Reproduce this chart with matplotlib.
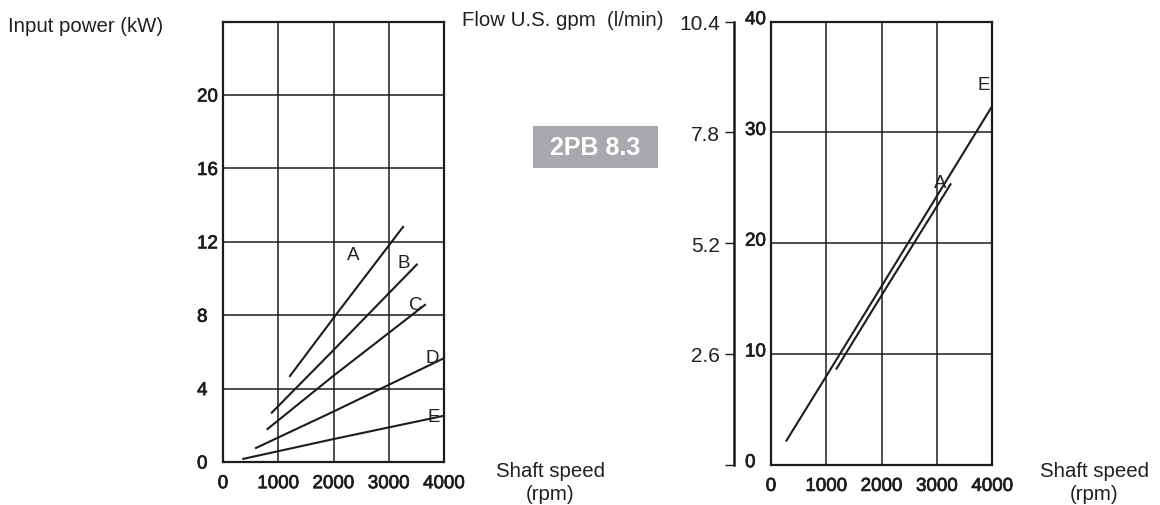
import matplotlib
matplotlib.use("Agg")
import matplotlib.pyplot as plt
import matplotlib.patheffects as pe
import matplotlib.transforms as mtransforms
from matplotlib.patches import Rectangle

plt.rcParams['font.family'] = ['Liberation Sans', 'DejaVu Sans']

# input power curves (rpm, kW)
pw_A_rpm = [1200, 2000, 3270]
pw_A_kw = [4.64, 7.85, 12.86]
pw_B_rpm = [870, 2000, 3520]
pw_B_kw = [2.65, 6.1, 10.8]
pw_C_rpm = [790, 2000, 3670]
pw_C_kw = [1.76, 4.7, 8.6]
pw_D_rpm = [580, 2000, 4000]
pw_D_kw = [0.74, 2.75, 5.66]
pw_E_rpm = [350, 2000, 4000]
pw_E_kw = [0.16, 1.25, 2.52]

# flow curves (rpm, l/min)
fl_E_rpm = [270, 1000, 4000]
fl_E_lpm = [2.1, 8.0, 32.4]
fl_A_rpm = [1175, 2000, 3255]
fl_A_lpm = [8.6, 15.3, 25.4]

rpm_ticks = [0, 1000, 2000, 3000, 4000]
kw_ticks = [0, 4, 8, 12, 16, 20]
lpm_ticks = [0, 10, 20, 30, 40]
gpm_ticks = [0, 2.6, 5.2, 7.8, 10.4]
gpm_labels = ['', '2.6', '5.2', '7.8', '10.4']

ink = '#1c1c1c'
txt = '#231f20'
W, H = 1160, 506

fig = plt.figure(figsize=(11.6, 5.06), dpi=100)

def px(x0, y_top, x1, y_bot):
    return [x0 / W, 1 - y_bot / H, (x1 - x0) / W, (y_bot - y_top) / H]

ax1 = fig.add_axes(px(223, 22.7, 444, 463))
ax2 = fig.add_axes(px(771, 22.7, 992.3, 465.7))

stroke = [pe.withStroke(linewidth=0.5, foreground=ink)]

for ax in (ax1, ax2):
    ax.set_xlim(0, 4000)
    ax.set_xticks(rpm_ticks)
    ax.grid(True, color=ink, lw=1.1)
    ax.set_axisbelow(True)
    for s in ax.spines.values():
        s.set_linewidth(1.6)
        s.set_color(ink)
    ax.tick_params(length=0, labelsize=13.5, labelcolor=ink)
    ax.tick_params(axis='x', pad=9.5)
    ax.tick_params(axis='y', pad=18.7)

# left: input power
ax1.set_ylim(0, 24)
ax1.set_yticks(kw_ticks)
for r, k in [(pw_A_rpm, pw_A_kw), (pw_B_rpm, pw_B_kw), (pw_C_rpm, pw_C_kw),
             (pw_D_rpm, pw_D_kw), (pw_E_rpm, pw_E_kw)]:
    ax1.plot(r, k, color=ink, lw=1.5, solid_capstyle='butt')
for name, x, y in [('A', 2350, 11.3), ('B', 3280, 10.9), ('C', 3490, 8.6),
                   ('D', 3780, 5.7), ('E', 3820, 2.5)]:
    ax1.text(x, y, name, fontsize=13.5, color=txt, ha='center', va='center')

# right: flow
ax2.set_ylim(0, 40)
ax2.set_yticks(lpm_ticks)
ax2.plot(fl_E_rpm, fl_E_lpm, color=ink, lw=1.5, solid_capstyle='butt')
ax2.plot(fl_A_rpm, fl_A_lpm, color=ink, lw=1.5, solid_capstyle='butt')
ax2.text(3055, 25.5, 'A', fontsize=13.5, color=txt, ha='center', va='center')
ax2.text(3850, 34.3, 'E', fontsize=13.5, color=txt, ha='center', va='center')

shift = mtransforms.ScaledTranslation(0, 4 / 100, fig.dpi_scale_trans)
for ax in (ax1, ax2):
    for lab in ax.get_yticklabels():
        lab.set_ha('left')
        if ax is ax2:
            lab.set_transform(lab.get_transform() + shift)
    for lab in ax.get_xticklabels() + ax.get_yticklabels():
        lab.set_path_effects(stroke)

sec = ax2.secondary_yaxis(-0.167, functions=(lambda y: y * 10.4 / 40,
                                             lambda g: g * 40 / 10.4))
sec.set_yticks(gpm_ticks)
sec.set_yticklabels(gpm_labels)
sec.spines['left'].set_linewidth(1.8)
sec.spines['left'].set_color(ink)
sec.tick_params(length=6.5, width=1.0, color=ink, labelsize=15,
                labelcolor=txt, pad=3.5)

# titles
fig.text(8 / W, 1 - 26 / H, 'Input power (kW)', fontsize=14.7, color=txt,
         ha='left', va='center')
fig.text(462 / W, 1 - 21 / H, 'Flow U.S. gpm  (l/min)', fontsize=14.7,
         color=txt, ha='left', va='center')
for cx in (550, 1094):
    fig.text(cx / W, 1 - 471.5 / H, 'Shaft speed', fontsize=14.7, color=txt,
             ha='center', va='center')
    fig.text(cx / W, 1 - 495 / H, '(rpm)', fontsize=14.7, color=txt,
             ha='center', va='center')

# product badge
fig.add_artist(Rectangle((532.7 / W, 1 - 168.7 / H), 125 / W, 42 / H,
                         transform=fig.transFigure, facecolor='#a7a9ac',
                         edgecolor='none'))
fig.text(595 / W, 1 - 147.7 / H, '2PB 8.3', fontsize=18, color='white',
         fontweight='bold', ha='center', va='center')

fig.savefig('out.png', dpi=100)
